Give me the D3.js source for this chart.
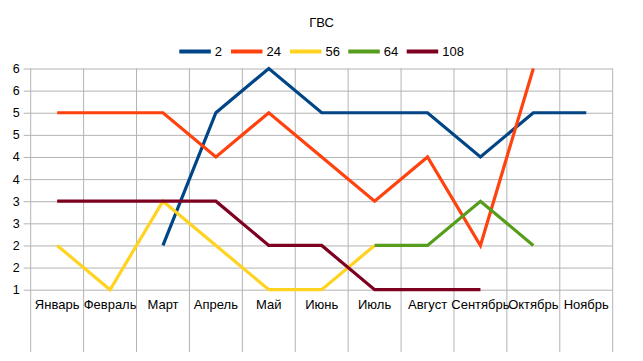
<!DOCTYPE html>
<html>
<head>
<meta charset="utf-8">
<script src="https://cdn.jsdelivr.net/npm/d3@7"></script>
<style>
  html, body { margin: 0; padding: 0; background: #fff; }
  svg { display: block; font-family: "Liberation Sans", Arial, sans-serif; }
</style>
</head>
<body>
<svg id="chart" width="643" height="361"></svg>
<script>
const title = "ГВС";
const categories = ["Январь","Февраль","Март","Апрель","Май","Июнь","Июль","Август","Сентябрь","Октябрь","Ноябрь"];
const seriesNames = ["2","24","56","64","108"];
const s2   = [null, null, 2, 5, 6, 5, 5, 5, 4, 5, 5];
const s24  = [5, 5, 5, 4, 5, 4, 3, 4, 2, 6, null];
const s56  = [2, 1, 3, 2, 1, 1, 2, null, null, null, null];
const s64  = [null, null, null, null, null, null, 2, 2, 3, 2, null];
const s108 = [3, 3, 3, 3, 2, 2, 1, 1, 1, null, null];
const yTickValues = [1, 1.5, 2, 2.5, 3, 3.5, 4, 4.5, 5, 5.5, 6];
const yTickLabels = ["1","2","2","3","3","4","4","5","5","6","6"];
const colors = ["#004586","#ff420e","#ffd320","#579d1c","#7e0021"];

const seriesValues = [s2, s24, s56, s64, s108];

const svg = d3.select("#chart");
const pLeft = 30.7, pRight = 612.7, pTop = 68.5, axisY = 289.7, pBottom = 352;

const x = d3.scaleBand().domain(categories).range([pLeft, pRight]).padding(0);
const xc = c => x(c) + x.bandwidth() / 2;
const y = d3.scaleLinear().domain([1, 6]).range([axisY, pTop]);

// Title
svg.append("text").attr("x", 321.5).attr("y", 27).attr("text-anchor", "middle")
  .attr("font-size", 13).attr("fill", "#000").text(title);

// Horizontal grid + y labels
const yAxis = d3.axisLeft(y).tickValues(yTickValues)
  .tickSize(-(pRight - pLeft)).tickSizeOuter(0)
  .tickFormat((d, i) => yTickLabels[i]);
const gy = svg.append("g").attr("transform", `translate(${pLeft},0)`).call(yAxis);
gy.select(".domain").remove();
gy.selectAll(".tick line").attr("stroke", "#b3b3b3").attr("x1", -7);
gy.selectAll(".tick text").attr("x", -11).attr("font-size", 12.5).attr("fill", "#000")
  .attr("font-family", "Liberation Sans, Arial, sans-serif");

// Vertical grid lines
const xEdges = categories.map(c => x(c)).concat([pRight]);
svg.append("g").selectAll("line").data(xEdges).join("line")
  .attr("x1", d => d).attr("x2", d => d).attr("y1", pTop).attr("y2", pBottom)
  .attr("stroke", "#b3b3b3").attr("stroke-width", 1);

// X axis labels
const xAxis = d3.axisBottom(x).tickSize(0).tickPadding(0);
const gx = svg.append("g").attr("transform", `translate(0,${axisY})`).call(xAxis);
gx.select(".domain").remove();
gx.selectAll(".tick text").attr("y", 10.5).attr("font-size", 13).attr("fill", "#000")
  .attr("font-family", "Liberation Sans, Arial, sans-serif");

// Lines
const line = d3.line()
  .defined(d => d.v !== null)
  .x(d => xc(d.c)).y(d => y(d.v));
seriesValues.forEach((vals, i) => {
  const data = categories.map((c, j) => ({ c, v: vals[j] }));
  svg.append("path").datum(data).attr("d", line)
    .attr("fill", "none").attr("stroke", colors[i]).attr("stroke-width", 3.2)
    .attr("stroke-linejoin", "miter").attr("stroke-linecap", "butt");
});

// Legend
const legendX = [179.3, 231, 290, 348.3, 406.7];
const lg = svg.append("g");
seriesNames.forEach((n, i) => {
  lg.append("line").attr("x1", legendX[i]).attr("x2", legendX[i] + 31.5)
    .attr("y1", 51.5).attr("y2", 51.5).attr("stroke", colors[i]).attr("stroke-width", 4);
  lg.append("text").attr("x", legendX[i] + 35.5).attr("y", 56).attr("font-size", 13)
    .attr("fill", "#000").text(n);
});
</script>
</body>
</html>
